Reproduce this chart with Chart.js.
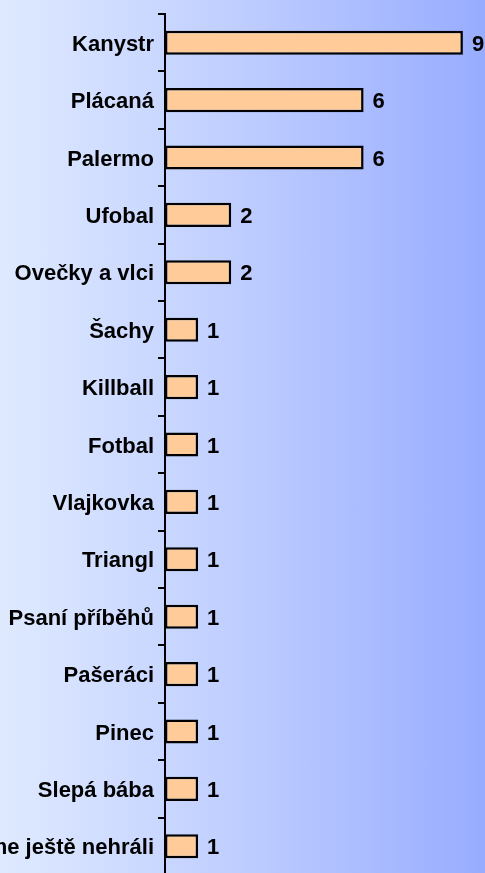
<!DOCTYPE html>
<html>
<head>
<meta charset="utf-8">
<script src="https://cdn.jsdelivr.net/npm/chart.js@4"></script>
<style>
  html, body { margin: 0; padding: 0; overflow: hidden; }
  body { width: 485px; height: 873px; background: linear-gradient(to right, #dfeaff 0%, #c2d0ff 45%, #98acff 100%); }
  #gamesChart { display: block; }
</style>
</head>
<body>
<canvas id="gamesChart" width="496" height="876"></canvas>
<script>
const games = ['Kanystr', 'Plácaná', 'Palermo', 'Ufobal', 'Ovečky a vlci', 'Šachy', 'Killball', 'Fotbal',
    'Vlajkovka', 'Triangl', 'Psaní příběhů', 'Pašeráci', 'Pinec', 'Slepá bába', 'Hry, které jsme ještě nehráli'];
const votes = [9, 6, 6, 2, 2, 1, 1, 1, 1, 1, 1, 1, 1, 1, 1];

const font = { family: 'Arial, "Liberation Sans", sans-serif', size: 22, weight: 'bold' };

// value numbers to the right of each bar
const valueLabels = {
    id: 'valueLabels',
    afterDatasetsDraw(chart) {
        const c = chart.ctx;
        const meta = chart.getDatasetMeta(0);
        c.save();
        c.font = 'bold 22px Arial, "Liberation Sans", sans-serif';
        c.fillStyle = '#000';
        c.textAlign = 'left';
        c.textBaseline = 'middle';
        meta.data.forEach((bar, i) => {
            c.fillText(String(votes[i]), bar.x + 9, bar.y + 2);
        });
        c.restore();
    }
};

const ctx = document.getElementById('gamesChart').getContext('2d');
const gamesChart = new Chart(ctx, {
    type: 'bar',
    data: {
        labels: games,
        datasets: [{
            data: votes,
            backgroundColor: '#ffcc99',
            borderColor: '#000',
            borderWidth: 2.5,
            borderSkipped: false,
            barPercentage: 0.42,
            categoryPercentage: 1
        }]
    },
    options: {
        indexAxis: 'y',
        responsive: false,
        animation: false,
        layout: { padding: { top: 14, bottom: 1, left: 0, right: 0 } },
        plugins: { legend: { display: false }, tooltip: { enabled: false } },
        scales: {
            x: { display: false, min: 0, max: 10 },
            y: {
                afterFit(scale) {
                    scale.width = 165;
                    scale.paddingTop = 0;
                    scale.paddingBottom = 0;
                },
                grid: { offset: true, drawOnChartArea: false, tickLength: 7, color: '#000', lineWidth: 2 },
                border: { display: true, color: '#000', width: 2 },
                ticks: { color: '#000', font: font, padding: 4, labelOffset: 2, autoSkip: false }
            }
        }
    },
    plugins: [valueLabels]
});
</script>
</body>
</html>
